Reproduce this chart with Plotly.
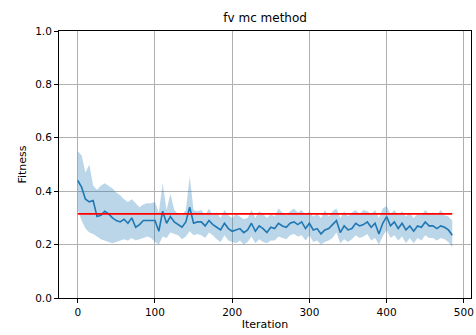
import plotly.graph_objects as go

iterations = list(range(0, 490, 5))

fitness_mean = [
    0.44, 0.415, 0.37, 0.36, 0.365, 0.305, 0.31, 0.325, 0.315, 0.30,
    0.29, 0.285, 0.295, 0.28, 0.30, 0.265, 0.275, 0.29, 0.29, 0.29,
    0.29, 0.25, 0.325, 0.28, 0.305, 0.285, 0.275, 0.265, 0.285, 0.34,
    0.28, 0.285, 0.285, 0.27, 0.29, 0.275, 0.265, 0.255, 0.28, 0.26,
    0.25, 0.255, 0.26, 0.245, 0.255, 0.28, 0.25, 0.27, 0.26, 0.245,
    0.265, 0.26, 0.28, 0.27, 0.265, 0.28, 0.285, 0.275, 0.285, 0.26,
    0.28, 0.255, 0.26, 0.24, 0.255, 0.26, 0.275, 0.29, 0.245, 0.27,
    0.255, 0.26, 0.28, 0.27, 0.275, 0.285, 0.265, 0.28, 0.24, 0.28,
    0.305, 0.27, 0.285, 0.26, 0.28, 0.255, 0.27, 0.25, 0.27, 0.265,
    0.285, 0.27, 0.27, 0.26, 0.27, 0.265, 0.255, 0.235,
]

fitness_upper = [
    0.55, 0.535, 0.47, 0.50, 0.42, 0.405, 0.42, 0.43, 0.42, 0.41,
    0.395, 0.385, 0.37, 0.36, 0.37, 0.355, 0.34, 0.35, 0.355, 0.355,
    0.36, 0.32, 0.43, 0.33, 0.39, 0.33, 0.315, 0.31, 0.33, 0.455,
    0.33, 0.325, 0.33, 0.31, 0.335, 0.31, 0.32, 0.30, 0.33, 0.31,
    0.30, 0.315, 0.305, 0.295, 0.30, 0.33, 0.30, 0.325, 0.315, 0.30,
    0.315, 0.305, 0.335, 0.32, 0.31, 0.325, 0.335, 0.32, 0.33, 0.31,
    0.325, 0.305, 0.315, 0.30, 0.33, 0.305, 0.325, 0.335, 0.30, 0.325,
    0.305, 0.32, 0.33, 0.315, 0.33, 0.325, 0.315, 0.33, 0.30, 0.335,
    0.345, 0.315, 0.33, 0.31, 0.325, 0.305, 0.32, 0.30, 0.315, 0.31,
    0.33, 0.315, 0.32, 0.31, 0.33, 0.31, 0.305, 0.29,
]

fitness_lower = [
    0.33, 0.29, 0.26, 0.245, 0.24, 0.23, 0.22, 0.215, 0.21, 0.205,
    0.21, 0.215, 0.22, 0.215, 0.225, 0.215, 0.22, 0.225, 0.23, 0.225,
    0.21, 0.20, 0.23, 0.225, 0.245, 0.24, 0.235, 0.22, 0.23, 0.25,
    0.235, 0.24, 0.235, 0.225, 0.245, 0.235, 0.22, 0.21, 0.235, 0.215,
    0.21, 0.205, 0.215, 0.20, 0.21, 0.23, 0.205, 0.22, 0.21, 0.205,
    0.215, 0.215, 0.23, 0.225, 0.22, 0.235, 0.24, 0.23, 0.235, 0.215,
    0.235, 0.21, 0.215, 0.20, 0.21, 0.215, 0.225, 0.245, 0.205, 0.22,
    0.21, 0.22, 0.235, 0.225, 0.23, 0.24, 0.215, 0.225, 0.20, 0.23,
    0.255, 0.225, 0.235, 0.215, 0.23, 0.205, 0.225, 0.205, 0.225, 0.215,
    0.235, 0.225, 0.225, 0.215, 0.225, 0.22, 0.21, 0.19,
]

baseline_value = 0.315
baseline_x = [0, 485]

x_ticks = [0, 100, 200, 300, 400, 500]
y_ticks = [0.0, 0.2, 0.4, 0.6, 0.8, 1.0]

FONT = "DejaVu Sans"

fig = go.Figure()

fig.add_trace(go.Scatter(
    x=iterations + iterations[::-1],
    y=fitness_upper + fitness_lower[::-1],
    fill="toself",
    fillcolor="rgba(31,119,180,0.3)",
    line=dict(width=0),
    hoverinfo="skip",
    showlegend=False,
))

fig.add_trace(go.Scatter(
    x=iterations, y=fitness_mean, mode="lines",
    line=dict(color="#1f77b4", width=1.6),
    showlegend=False,
))

fig.add_trace(go.Scatter(
    x=baseline_x, y=[baseline_value] * len(baseline_x), mode="lines",
    line=dict(color="red", width=1.6),
    showlegend=False,
))

axis_common = dict(
    showline=True, linecolor="black", linewidth=1, mirror=True,
    ticks="outside", ticklen=4, tickcolor="black", tickwidth=1,
    showgrid=True, gridcolor="#b0b0b0", gridwidth=0.8,
    zeroline=False, automargin=False,
    tickfont=dict(family=FONT, size=10.5, color="black"),
)

fig.update_layout(
    width=476, height=335,
    margin=dict(l=59, r=5, t=31, b=37),
    paper_bgcolor="white", plot_bgcolor="white",
    title=dict(text="fv mc method", x=0.557, xanchor="center", y=0.946, yanchor="middle",
               font=dict(family=FONT, size=12, color="black"), automargin=False),
    xaxis=dict(range=[-24.25, 509.25], tickvals=x_ticks,
               title=dict(text="Iteration", font=dict(family=FONT, size=11, color="black"), standoff=3),
               **axis_common),
    yaxis=dict(range=[0, 1], tickvals=y_ticks, tickformat=".1f",
               title=dict(text="Fitness", font=dict(family=FONT, size=11, color="black"), standoff=6),
               **axis_common),
)

fig.write_html(
    "out.html",
    config={"displayModeBar": False},
    post_script="document.body.style.margin='0';document.body.style.overflow='hidden';",
)
